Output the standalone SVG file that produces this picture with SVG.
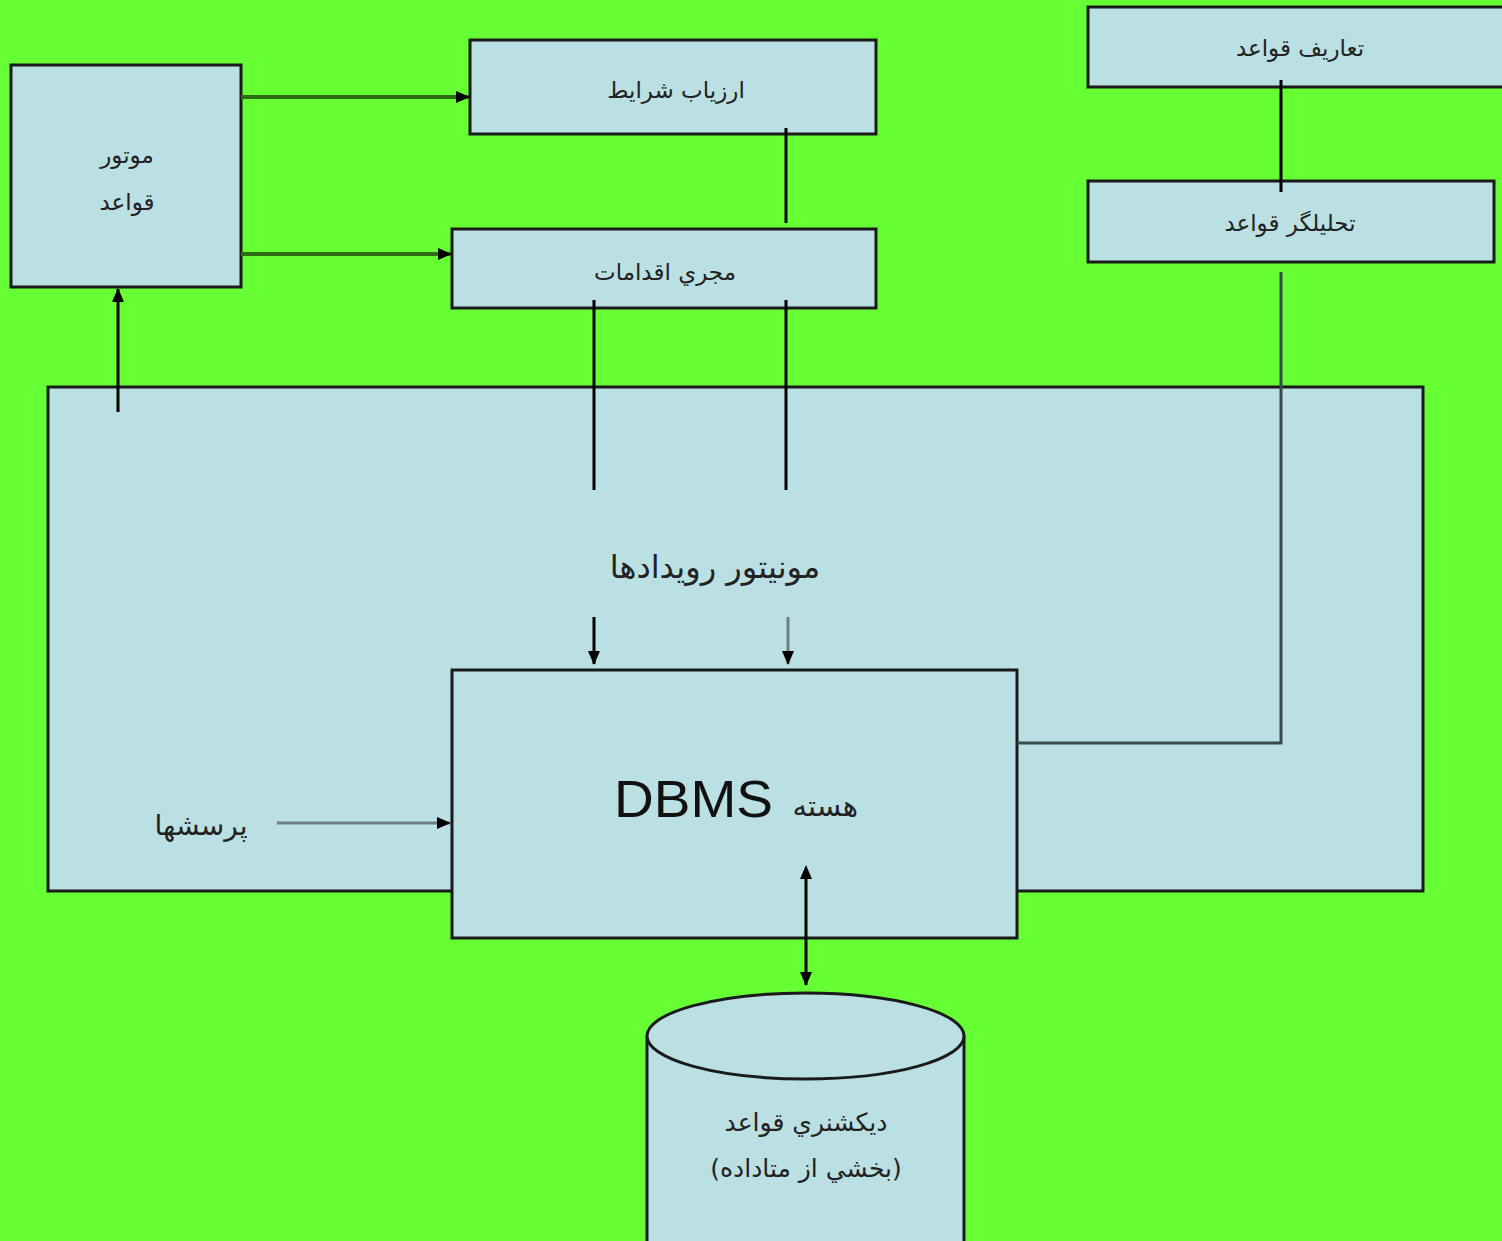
<svg xmlns="http://www.w3.org/2000/svg" width="1502" height="1241" viewBox="0 0 1502 1241">
<defs>
<style>
.box{fill:#bbe0e3;stroke:#1a1a1a;stroke-width:3}
.t{font-family:"DejaVu Sans","Noto Sans",sans-serif;font-size:23px;fill:#222;text-anchor:middle}
.ln{stroke:#000;stroke-width:3;fill:none}
.gl{stroke:#2f6b12;stroke-width:4;fill:none}
.gr{stroke:#6e8082;stroke-width:3;fill:none}
</style>
<marker id="ah" markerWidth="14" markerHeight="12" refX="13" refY="6" orient="auto" markerUnits="userSpaceOnUse" viewBox="0 0 14 12">
<path d="M0,0 L14,6 L0,12 z" fill="#000"/>
</marker>
<marker id="ahs" markerWidth="14" markerHeight="12" refX="1" refY="6" orient="auto-start-reverse" markerUnits="userSpaceOnUse" viewBox="0 0 14 12">
<path d="M0,0 L14,6 L0,12 z" fill="#000"/>
</marker>
</defs>
<rect x="0" y="0" width="1502" height="1241" fill="#66ff33"/>
<g id="big-box"><rect class="box" x="48" y="387" width="1375" height="504"/></g>
<g id="rule-engine"><rect class="box" x="11" y="65" width="230" height="222"/>
<text class="t" x="127" y="163">موتور</text><text class="t" x="127" y="210">قواعد</text></g>
<g id="condition-evaluator"><rect class="box" x="470" y="40" width="406" height="94"/>
<text class="t" x="676" y="98">ارزياب شرايط</text></g>
<g id="action-executor"><rect class="box" x="452" y="229" width="424" height="79"/>
<text class="t" x="665" y="280">مجري اقدامات</text></g>
<g id="rule-definitions"><rect class="box" x="1088" y="7" width="420" height="80"/>
<text class="t" x="1300" y="56">تعاريف قواعد</text></g>
<g id="rule-analyzer"><rect class="box" x="1088" y="181" width="406" height="81"/>
<text class="t" x="1290" y="231">تحليلگر قواعد</text></g>
<g id="event-monitor"><text class="t" x="715" y="578" style="font-size:32px">مونيتور رويدادها</text></g>
<g id="dbms-core"><rect class="box" x="452" y="670" width="565" height="268"/>
<text x="614" y="817" textLength="159" lengthAdjust="spacingAndGlyphs" style="font-family:'Liberation Sans',Arial,sans-serif;font-size:52px;fill:#111">DBMS</text>
<text class="t" x="858" y="816" style="text-anchor:end;font-size:29px">هسته</text></g>
<g id="queries"><text class="t" x="201" y="835" style="font-size:28px">پرسشها</text></g>
<g id="rule-dictionary">
<path class="box" d="M647,1036 L647,1260 L964,1260 L964,1036"/>
<ellipse class="box" cx="805.5" cy="1036" rx="158.5" ry="43"/>
<text class="t" x="806" y="1131" style="font-size:25px">ديكشنري قواعد</text>
<text class="t" x="806" y="1177" style="font-size:25px">(بخشي از متاداده)</text></g>
<g id="connectors">
<line class="gl" x1="241" y1="97" x2="469" y2="97" marker-end="url(#ah)"/>
<line class="gl" x1="241" y1="254" x2="451" y2="254" marker-end="url(#ah)"/>
<line class="ln" x1="786" y1="128" x2="786" y2="223"/>
<line class="ln" x1="1281" y1="80" x2="1281" y2="192"/>
<polyline class="gr" points="1281,272 1281,743 1017,743" style="stroke:#3a4a4a"/>
<line class="ln" x1="118" y1="412" x2="118" y2="289" marker-end="url(#ah)"/>
<line class="ln" x1="594" y1="300" x2="594" y2="490"/>
<line class="ln" x1="786" y1="300" x2="786" y2="490"/>
<line class="ln" x1="594" y1="617" x2="594" y2="664" marker-end="url(#ah)"/>
<line class="gr" x1="788" y1="617" x2="788" y2="664" marker-end="url(#ah)"/>
<line class="gr" x1="277" y1="823" x2="450" y2="823" marker-end="url(#ah)"/>
<line class="ln" x1="806" y1="878" x2="806" y2="985" marker-start="url(#ahs)" marker-end="url(#ah)"/>
</g>
</svg>
